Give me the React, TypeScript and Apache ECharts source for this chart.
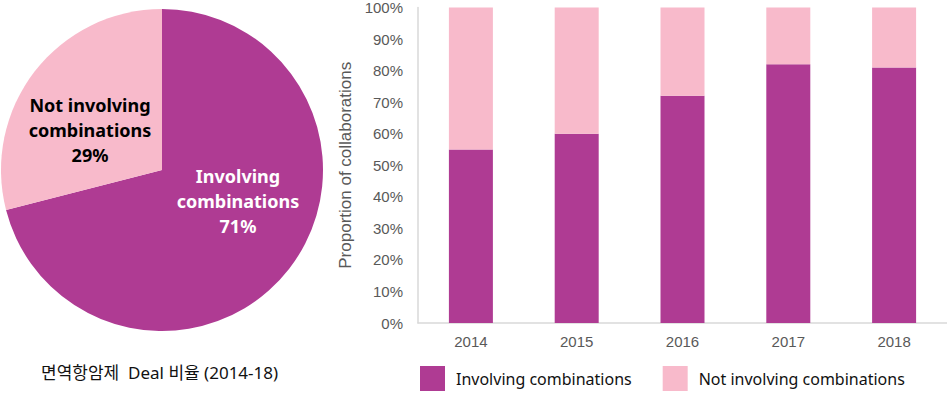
import React, { useEffect, useRef } from "react";
import * as echarts from "echarts";

const years = ["2014", "2015", "2016", "2017", "2018"];
const involving = [55, 60, 72, 82, 81];
const notInvolving = [45, 40, 28, 18, 19];
const pieNames = ["Involving combinations", "Not involving combinations"];
const pieValues = [71, 29];
const caption = "면역항암제  Deal 비율 (2014-18)";
const yAxisTitle = "Proportion of collaborations";

const DARK = "#AF3B93";
const PINK = "#F8BACB";
const GREY = "#595959";

export default function App() {
  const ref = useRef<HTMLDivElement>(null);
  useEffect(() => {
    if (!ref.current) return;
    const chart = echarts.init(ref.current, undefined, { renderer: "svg" });
    chart.setOption({
      animation: false,
      backgroundColor: "#ffffff",
      title: {
        text: caption,
        left: 36,
        top: 359,
        textStyle: {
          fontFamily: "'Noto Sans', 'Noto Sans CJK KR'",
          fontSize: 17,
          fontWeight: "normal",
          color: "#111111",
        },
      },
      legend: {
        data: pieNames,
        left: 420,
        top: 366,
        icon: "rect",
        itemWidth: 25,
        itemHeight: 25,
        itemGap: 31,
        padding: 0,
        textStyle: {
          fontFamily: "'Noto Sans', 'Noto Sans CJK KR'",
          fontSize: 16,
          color: "#111111",
          padding: [0, 0, 0, 6],
        },
      },
      grid: { left: 418, right: -26, top: 7, bottom: 75 },
      xAxis: {
        type: "category",
        data: years,
        axisLine: { lineStyle: { color: "#d9d9d9", width: 1.5 } },
        axisTick: { show: false },
        axisLabel: {
          color: GREY,
          fontFamily: "'Liberation Sans', Arial",
          fontSize: 15,
          margin: 11,
        },
      },
      yAxis: {
        type: "value",
        min: 0,
        max: 100,
        interval: 10,
        name: yAxisTitle,
        nameLocation: "middle",
        nameGap: 58,
        nameTextStyle: {
          color: GREY,
          fontFamily: "'Liberation Sans', Arial",
          fontSize: 17,
        },
        axisLine: { show: true, lineStyle: { color: "#d9d9d9", width: 1.5 } },
        axisTick: { show: false },
        splitLine: { show: false },
        axisLabel: {
          formatter: "{value}%",
          color: GREY,
          fontFamily: "'Liberation Sans', Arial",
          fontSize: 15,
          margin: 15,
        },
      },
      series: [
        {
          type: "bar",
          name: pieNames[0],
          stack: "total",
          data: involving,
          barWidth: 44,
          itemStyle: { color: DARK },
        },
        {
          type: "bar",
          name: pieNames[1],
          stack: "total",
          data: notInvolving,
          barWidth: 44,
          itemStyle: { color: PINK },
        },
        {
          type: "pie",
          center: [162, 170],
          radius: 161,
          startAngle: 90,
          clockwise: true,
          data: pieNames.map((n, i) => ({
            name: n,
            value: pieValues[i],
            itemStyle: { color: i === 0 ? DARK : PINK },
            label: { color: i === 0 ? "#ffffff" : "#000000" },
          })),
          label: {
            show: true,
            position: "inside",
            fontFamily: "'Noto Sans', 'Noto Sans CJK KR'",
            fontWeight: "bold",
            fontSize: 18,
            lineHeight: 25,
            align: "center",
            formatter: (p: any) => {
              const idx = p.name.lastIndexOf(" ");
              return (
                p.name.slice(0, idx) +
                "\n" +
                p.name.slice(idx + 1) +
                "\n" +
                Math.round(p.percent) +
                "%"
              );
            },
          },
          labelLine: { show: false },
          labelLayout: (p: any) =>
            p.dataIndex === 0 ? { dx: 10, dy: -20 } : { dx: -6, dy: 11 },
          emphasis: { disabled: true },
        },
      ],
    });
    return () => chart.dispose();
  }, []);
  return (
    <div
      ref={ref}
      style={{ position: "fixed", left: 0, top: 0, width: 947, height: 398 }}
    />
  );
}
